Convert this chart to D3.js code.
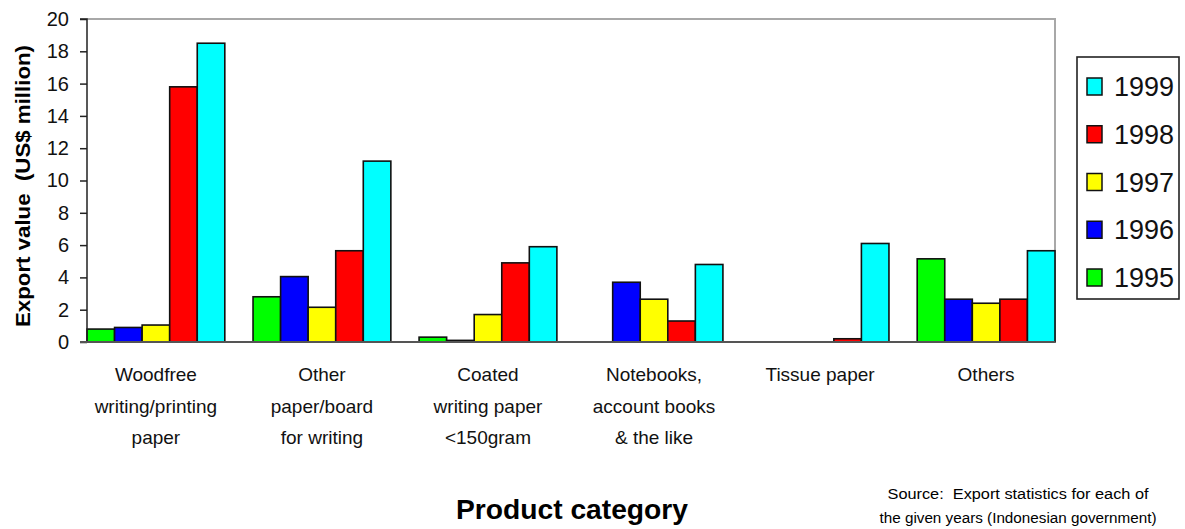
<!DOCTYPE html>
<html><head><meta charset="utf-8">
<script src="https://cdn.jsdelivr.net/npm/d3@7"></script>
<style>
html,body{margin:0;padding:0;background:#fff;}
svg{display:block;font-family:"Liberation Sans",Arial,sans-serif;}
</style></head>
<body>
<svg id="chart" width="1185" height="529"></svg>
<script>
const categories = [
  ["Woodfree","writing/printing","paper"],
  ["Other","paper/board","for writing"],
  ["Coated","writing paper","<150gram"],
  ["Notebooks,","account books","& the like"],
  ["Tissue paper"],
  ["Others"]
];
const years = ["1995","1996","1997","1998","1999"];
const colors = ["#00ff00","#0000ff","#ffff00","#ff0000","#00ffff"];
const v1995 = [0.8, 2.8, 0.3, 0, 0, 5.15];
const v1996 = [0.9, 4.05, 0.1, 3.7, 0, 2.65];
const v1997 = [1.05, 2.15, 1.7, 2.65, 0, 2.4];
const v1998 = [15.8, 5.65, 4.9, 1.3, 0.2, 2.65];
const v1999 = [18.5, 11.2, 5.9, 4.8, 6.1, 5.65];
const series = [v1995, v1996, v1997, v1998, v1999];
const yTicks = [0,2,4,6,8,10,12,14,16,18,20];

const svg = d3.select("#chart");
const L = 87, R = 1055, T = 19, B = 342;

const x0 = d3.scaleBand().domain(d3.range(categories.length)).range([L, R]).paddingInner(0.17).paddingOuter(0);
const x1 = d3.scaleBand().domain(years).range([0, x0.bandwidth()]).padding(0);
const y = d3.scaleLinear().domain([0, 20]).range([B, T]);

// frame top and right
svg.append("path").attr("d", `M${L},${T}H${R}V${B}`).attr("fill","none").attr("stroke","#a8a8a8").attr("stroke-width",2);

// bars
const data = [];
categories.forEach((c, i) => years.forEach((yr, j) => {
  if (series[j][i] > 0) data.push({i, yr, j, v: series[j][i]});
}));
svg.append("g").selectAll("rect").data(data).join("rect")
  .attr("x", d => x0(d.i) + x1(d.yr))
  .attr("y", d => y(d.v))
  .attr("width", x1.bandwidth())
  .attr("height", d => B - y(d.v))
  .attr("fill", d => colors[d.j])
  .attr("stroke", "#111").attr("stroke-width", 1.6);

// y axis
const yAxis = d3.axisLeft(y).tickValues(yTicks).tickSize(7).tickPadding(11).tickFormat(d3.format("d"));
const ga = svg.append("g").attr("transform", `translate(${L},0)`).call(yAxis);
ga.select(".domain").attr("stroke","#222").attr("stroke-width",1.5).attr("d", `M-7,${T}H0V${B}H-7`);
ga.selectAll(".tick line").attr("stroke","#222").attr("stroke-width",1.5);
ga.selectAll(".tick text").attr("font-size", 20).attr("fill","#111").attr("font-family","Liberation Sans, Arial, sans-serif");

// bottom axis line
svg.append("line").attr("x1", L - 7).attr("x2", R).attr("y1", B).attr("y2", B).attr("stroke","#555").attr("stroke-width",2);

// category labels
const cl = svg.append("g").selectAll("text").data(categories).join("text")
  .attr("text-anchor","middle").attr("font-size",19).attr("fill","#111")
  .attr("x", (d,i) => x0(i) + x0.bandwidth()/2).attr("y", 381);
cl.selectAll("tspan").data(d => d).join("tspan")
  .attr("x", function(){ return d3.select(this.parentNode).attr("x"); })
  .attr("dy", (d,k) => k === 0 ? 0 : 31.5)
  .text(d => d);

// y title
svg.append("text").attr("transform","translate(30,186) rotate(-90)")
  .attr("text-anchor","middle").attr("font-size",21).attr("font-weight","bold")
  .style("white-space","pre").attr("fill","#000")
  .attr("textLength",282).attr("lengthAdjust","spacingAndGlyphs")
  .text("Export value  (US$ million)");

// x title
svg.append("text").attr("x",572).attr("y",519).attr("text-anchor","middle")
  .attr("font-size",28).attr("font-weight","bold").attr("fill","#000")
  .attr("textLength",232).attr("lengthAdjust","spacingAndGlyphs")
  .text("Product category");

// source
const src = svg.append("text").attr("text-anchor","middle").attr("font-size",14).attr("fill","#000").style("white-space","pre");
src.append("tspan").attr("x",1018).attr("y",499).attr("textLength",261).attr("lengthAdjust","spacingAndGlyphs").text("Source:  Export statistics for each of");
src.append("tspan").attr("x",1018).attr("y",523).attr("textLength",277).attr("lengthAdjust","spacingAndGlyphs").text("the given years (Indonesian government)");

// legend
const lg = svg.append("g");
lg.append("rect").attr("x",1077).attr("y",57).attr("width",102).attr("height",242)
  .attr("fill","#fff").attr("stroke","#222").attr("stroke-width",1.6);
const legY = d3.scalePoint().domain(years.slice().reverse()).range([86, 277]);
const items = lg.selectAll("g.it").data(years.slice().reverse()).join("g").attr("class","it")
  .attr("transform", d => `translate(0,${legY(d)})`);
items.append("rect").attr("x",1087).attr("y",-8).attr("width",15).attr("height",17)
  .attr("fill", d => colors[years.indexOf(d)]).attr("stroke","#111").attr("stroke-width",1.5);
items.append("text").attr("x",1114).attr("y",10).attr("font-size",27).attr("fill","#111")
  .attr("textLength",60).attr("lengthAdjust","spacingAndGlyphs").text(d => d);
</script>
</body></html>
